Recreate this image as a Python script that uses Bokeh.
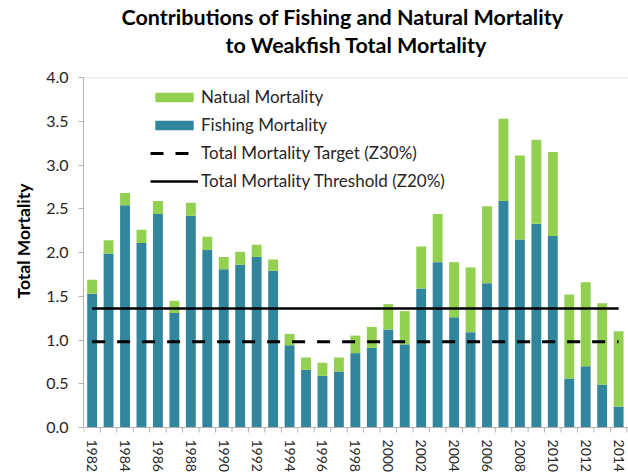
import math
from bokeh.plotting import figure
from bokeh.core.properties import value
from bokeh.models import (ColumnDataSource, FixedTicker, PrintfTickFormatter,
                          Legend, LegendItem, Span, Title, LabelSet)
from bokeh.embed import file_html
from bokeh.resources import INLINE

# ---- data ----
years = list(range(1982, 2015))
fishing = [1.53, 1.99, 2.54, 2.11, 2.44, 1.31, 2.42, 2.03, 1.81, 1.86, 1.95,
           1.79, 0.94, 0.66, 0.59, 0.64, 0.85, 0.91, 1.12, 0.95, 1.59, 1.89,
           1.26, 1.09, 1.65, 2.59, 2.15, 2.33, 2.19, 0.56, 0.70, 0.49, 0.24]
natural = [0.16, 0.15, 0.14, 0.15, 0.15, 0.14, 0.15, 0.15, 0.14, 0.15, 0.14,
           0.13, 0.13, 0.14, 0.15, 0.16, 0.20, 0.24, 0.29, 0.38, 0.48, 0.55,
           0.63, 0.74, 0.88, 0.94, 0.96, 0.96, 0.96, 0.96, 0.96, 0.93, 0.86]
target_z30 = 0.98
threshold_z20 = 1.36
label_years = list(range(1982, 2015, 2))
x_tick_labels = [str(y) for y in label_years]
y_ticks = [0.0, 0.5, 1.0, 1.5, 2.0, 2.5, 3.0, 3.5, 4.0]
series_names = ["Natual Mortality", "Fishing Mortality",
                "Total Mortality Target (Z30%)", "Total Mortality Threshold (Z20%)"]
title_lines = ["Contributions of Fishing and Natural Mortality",
               "to Weakfish Total Mortality"]
y_axis_title = "Total Mortality"

FONT = "Lato"
TEAL = "#31859c"
GREEN = "#92d050"
AXIS_GRAY = "#b3b3b3"
TEXT = "#262626"

src = ColumnDataSource(dict(
    year=years, fishing=fishing, natural=natural,
    target=[target_z30] * len(years), threshold=[threshold_z20] * len(years)))

# plot frame runs to the bottom of the canvas; the value axis covers 0..4 only,
# the space below 0 holds the year labels
X_START, X_END = 1981.476, 2014.6
Y_BELOW = -0.537
p = figure(width=628, height=474, x_range=(X_START, X_END), y_range=(Y_BELOW, 4.0),
           x_axis_location=None,
           output_backend="svg", toolbar_location=None,
           min_border_left=83, min_border_right=0, min_border_top=77,
           min_border_bottom=0)
p.title = None
p.outline_line_color = None
p.grid.visible = False
p.background_fill_color = "white"

fish_r, nat_r = p.vbar_stack(["fishing", "natural"], x="year", width=0.6,
                             fill_color=[TEAL, GREEN], line_color=None, source=src)
tgt_r = p.line("year", "target", source=src, line_color="black", line_width=3,
               line_dash="13 12")
thr_r = p.line("year", "threshold", source=src, line_color="black", line_width=2.5)

# top border of plot area and category axis line
p.add_layout(Span(location=4.0, dimension="width", line_color="#d9d9d9", line_width=1.5))
p.add_layout(Span(location=0.0, dimension="width", line_color=AXIS_GRAY, line_width=1))

# category tick marks between the bars
bounds_src = ColumnDataSource(dict(x=[y - 0.5 for y in years] + [years[-1] + 0.5],
                                   y=[0.0] * (len(years) + 1)))
p.ray(x="x", y="y", length=5, length_units="screen", angle=-math.pi / 2,
      line_color=AXIS_GRAY, line_width=1, source=bounds_src)

# year labels
lab_src = ColumnDataSource(dict(x=label_years, y=[0.0] * len(label_years),
                                text=x_tick_labels))
p.add_layout(LabelSet(x="x", y="y", text="text", source=lab_src, angle=-math.pi / 2,
                      y_offset=-12, text_align="left", text_baseline="middle",
                      text_font=value(FONT), text_font_size=value("14px"),
                      text_color=TEXT))

# spacer between title and plot area, then the two title lines
p.add_layout(Title(text=" ", text_font=FONT, text_font_size="10px", standoff=4), "above")
p.add_layout(Title(text=title_lines[1], align="left", offset=142, vertical_align="top",
                   text_font=FONT, text_font_size="21.5px", text_font_style="bold",
                   text_color="black", text_line_height=1.0, standoff=0), "above")
p.add_layout(Title(text=title_lines[0], align="left", offset=38, vertical_align="top",
                   text_font=FONT, text_font_size="21.5px", text_font_style="bold",
                   text_color="black", text_line_height=1.0, standoff=0), "above")

# y axis
ya = p.yaxis[0]
ya.bounds = (0, 4)
ya.ticker = FixedTicker(ticks=y_ticks)
ya.formatter = PrintfTickFormatter(format="%.1f")
ya.axis_line_color = AXIS_GRAY
ya.major_tick_line_color = AXIS_GRAY
ya.major_tick_out = 5
ya.major_tick_in = 0
ya.minor_tick_line_color = None
ya.major_label_text_font = FONT
ya.major_label_text_font_size = "16px"
ya.major_label_text_color = TEXT
ya.major_label_standoff = 10

# value-axis title, placed alongside the 0..4 span like the reference
p.add_layout(Title(text=y_axis_title, align="left", offset=176,
                   text_font=FONT, text_font_size="17.5px", text_font_style="bold",
                   text_color="black", text_line_height=1.0, standoff=20), "left")

legend = Legend(items=[
    LegendItem(label=series_names[0], renderers=[nat_r]),
    LegendItem(label=series_names[1], renderers=[fish_r]),
    LegendItem(label=series_names[2], renderers=[tgt_r]),
    LegendItem(label=series_names[3], renderers=[thr_r]),
], location=(67, 283), padding=0, margin=0, spacing=7,
    glyph_width=48, glyph_height=12, label_height=20, label_standoff=3,
    label_text_font=FONT, label_text_font_size="17px", label_text_color=TEXT,
    border_line_color=None, background_fill_alpha=0)
p.add_layout(legend)

open("out.html", "w").write(file_html(p, INLINE))
